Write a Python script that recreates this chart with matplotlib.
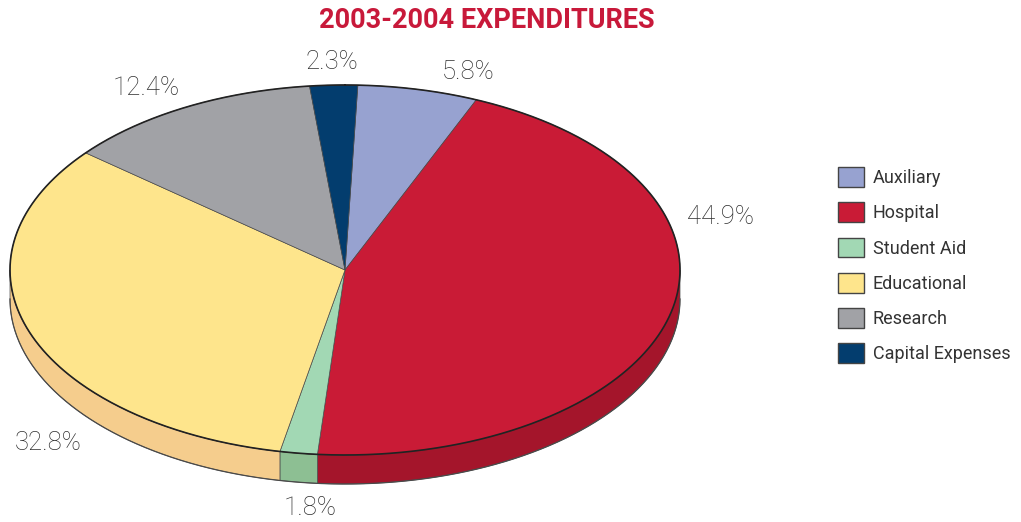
import numpy as np
import matplotlib
matplotlib.use("Agg")
import matplotlib.pyplot as plt
from matplotlib.patches import Polygon, Patch

# ---- data ----
categories = ["Auxiliary", "Hospital", "Student Aid", "Educational", "Research", "Capital Expenses"]
values = [5.8, 44.9, 1.8, 32.8, 12.4, 2.3]
labels = ["5.8%", "44.9%", "1.8%", "32.8%", "12.4%", "2.3%"]
top_colors = ["#97A2D0", "#C91B36", "#A2D8B4", "#FEE58C", "#A1A2A6", "#033D6E"]
side_colors = ["#7F8ABA", "#A4152B", "#8DBF93", "#F5CD8D", "#88898D", "#022B50"]

# ---- geometry (pixel space) ----
W, H = 1021, 522
cx, cy = 345, 270
a, b = 335, 185
depth = 29
start = 2.2  # degrees clockwise from 12 o'clock

fig = plt.figure(figsize=(W / 100, H / 100), dpi=100)
ax = fig.add_axes([0, 0, 1, 1])
ax.set_xlim(0, W)
ax.set_ylim(H, 0)
ax.axis("off")


def arc(t0, t1, dy=0.0, n=200):
    t = np.radians(np.linspace(t0, t1, n))
    return np.column_stack([cx + a * np.sin(t), cy - b * np.cos(t) + dy])


fracs = np.array(values) / np.sum(values) * 360.0
bounds = start + np.concatenate([[0], np.cumsum(fracs)])
edge = "#4a4a4a"

# side (front half only: 90..270 deg)
for i in range(len(values)):
    t0, t1 = bounds[i], bounds[i + 1]
    for off in (0, 360, -360):
        s0, s1 = max(t0 + off, 90), min(t1 + off, 270)
        if s1 > s0:
            top = arc(s0, s1)
            bot = arc(s0, s1, depth)[::-1]
            ax.add_patch(Polygon(np.vstack([top, bot]), closed=True,
                                 facecolor=side_colors[i], edgecolor=edge,
                                 linewidth=0.5, zorder=1))

# bottom outline of the side
bo = arc(90, 270, depth)
ax.plot(bo[:, 0], bo[:, 1], color=edge, lw=0.9, zorder=2)

# top surface wedges
for i in range(len(values)):
    pts = np.vstack([[cx, cy], arc(bounds[i], bounds[i + 1]), [cx, cy]])
    ax.add_patch(Polygon(pts, closed=True, facecolor=top_colors[i],
                         edgecolor=edge, linewidth=0.5, zorder=3))

# rim outline
rim = arc(0, 360, n=720)
ax.plot(rim[:, 0], rim[:, 1], color="#222222", lw=1.2, zorder=4)

# percentage labels
label_pos = [(468, 72), (720, 217), (310, 508), (48, 443), (146, 88), (332, 62)]
for txt, (x, y) in zip(labels, label_pos):
    ax.text(x, y, txt, ha="center", va="center", fontsize=18.5,
            color="#2e2e2e", family="Roboto", fontweight="light", zorder=5)

# title
ax.text(487, 20, "2003-2004 EXPENDITURES", ha="center", va="center",
        fontsize=19.5, fontweight="bold", color="#C8193A", family="Roboto")

# legend
handles = [Patch(facecolor=c, edgecolor="#444444", linewidth=1.0) for c in top_colors]
fig.legend(handles, categories, loc="upper left",
           bbox_to_anchor=(831 / W, 1 - 160 / H), frameon=False,
           prop={"family": "Roboto", "size": 13}, labelcolor="#333333",
           handlelength=1.4, handleheight=1.3, handletextpad=0.5,
           labelspacing=0.85, borderaxespad=0)

fig.savefig("out.png", dpi=100)
